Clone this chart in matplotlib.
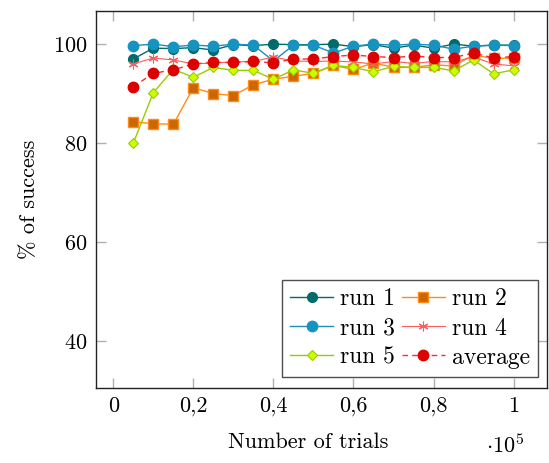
import matplotlib
matplotlib.use("Agg")
import matplotlib.pyplot as plt
from matplotlib.ticker import FuncFormatter

plt.rcParams["font.family"] = ["cmr10", "DejaVu Serif"]
plt.rcParams["mathtext.fontset"] = "cm"
plt.rcParams["axes.formatter.use_mathtext"] = True

trials = [0.05, 0.10, 0.15, 0.20, 0.25, 0.30, 0.35, 0.40, 0.45, 0.50,
          0.55, 0.60, 0.65, 0.70, 0.75, 0.80, 0.85, 0.90, 0.95, 1.00]

run1 = [97.0, 99.2, 99.1, 99.3, 98.8, 99.9, 99.7, 100.0, 99.9, 99.9,
        100.0, 99.5, 99.9, 99.2, 99.8, 99.2, 100.0, 99.6, 99.8, 99.8]
run2 = [84.3, 83.9, 83.8, 91.2, 90.0, 89.6, 91.8, 92.9, 93.5, 94.1,
        95.7, 94.9, 96.2, 95.3, 95.3, 95.8, 95.6, 97.8, 97.1, 97.2]
run3 = [99.7, 100.0, 99.5, 99.8, 99.6, 100.0, 99.8, 96.6, 99.8, 99.8,
        98.2, 99.6, 100.0, 99.8, 100.0, 99.8, 99.0, 99.6, 99.8, 99.7]
run4 = [96.0, 97.2, 96.8, 96.0, 96.2, 96.4, 96.5, 97.4, 96.6, 96.5,
        96.6, 96.4, 96.0, 96.5, 96.1, 96.5, 96.4, 97.4, 96.0, 95.6]
run5 = [80.0, 90.2, 94.9, 93.3, 95.3, 94.7, 94.7, 92.9, 94.8, 94.1,
        95.7, 95.3, 94.4, 95.5, 95.3, 95.3, 94.6, 96.8, 94.0, 94.8]
average = [91.4, 94.1, 94.8, 96.0, 96.3, 96.3, 96.5, 96.2, 97.0, 97.0,
           97.5, 97.8, 97.5, 97.3, 97.6, 97.3, 97.3, 98.2, 97.2, 97.5]

x_ticks = [0, 0.2, 0.4, 0.6, 0.8, 1.0]
y_ticks = [40, 60, 80, 100]

FS = 16

fig = plt.figure(figsize=(5.49, 4.63), dpi=100)
ax = fig.add_axes([0.1749, 0.1613, 0.8215, 0.8149])

h1, = ax.plot(trials, run1, color="#006b6b", lw=1.0, marker="o", ms=7,
              mfc="#006b6b", mec="#006b6b", label="run 1")
h2, = ax.plot(trials, run2, color="#ff8c1a", lw=1.0, marker="s", ms=7.5,
              mfc="#cc6600", mec="#ff8c1a", mew=1.0, label="run 2")
h3, = ax.plot(trials, run3, color="#1a8fbf", lw=1.0, marker="o", ms=7.5,
              mfc="#1793c0", mec="#1793c0", label="run 3")
h4, = ax.plot(trials, run4, color="#ff5c5c", lw=0.8, marker=(6, 2, 0), ms=7,
              mfc="#ff5c5c", mec="#ff5c5c", mew=0.8, label="run 4")
h5, = ax.plot(trials, run5, color="#99cc00", lw=1.0, marker="D", ms=5,
              mfc="#ccff00", mec="#99cc00", mew=0.8, label="run 5")
h6, = ax.plot(trials, average, color="#ff2a2a", lw=1.0, ls=(0, (4, 3)),
              marker="o", ms=7.5, mfc="#dd0000", mec="#dd0000",
              label="average")

ax.set_xlim(-0.0432, 1.0835)
ax.set_ylim(30.4, 106.7)
ax.set_xticks(x_ticks)
ax.set_yticks(y_ticks)
ax.xaxis.set_major_formatter(FuncFormatter(
    lambda v, p: "0" if v == 0 else ("1" if v == 1 else f"{v:.1f}".replace(".", ","))))
ax.tick_params(direction="in", length=7, width=1.0, color="#b0b0b0",
               top=True, right=True, labelsize=FS, pad=6)
for s in ax.spines.values():
    s.set_linewidth(1.0)
    s.set_color("#222222")

xl = ax.set_xlabel("Number of trials", fontsize=FS, labelpad=12)
xl.set_x(0.47)
ax.set_ylabel("% of success", fontsize=FS, labelpad=10)
fig.text(0.92, 0.012, r"$\cdot 10^5$", fontsize=FS, ha="center", va="bottom")

leg = ax.legend([h1, h3, h5, h2, h4, h6],
                ["run 1", "run 3", "run 5", "run 2", "run 4", "average"],
                ncol=2, loc="lower right", bbox_to_anchor=(0.98, 0.03),
                fontsize=17, frameon=True, fancybox=False, edgecolor="#222222",
                handlelength=1.8, handletextpad=0.3, columnspacing=0.3,
                labelspacing=0.3, borderpad=0.35, borderaxespad=0)
leg.get_frame().set_linewidth(1.0)

fig.savefig("out.png", dpi=100)
